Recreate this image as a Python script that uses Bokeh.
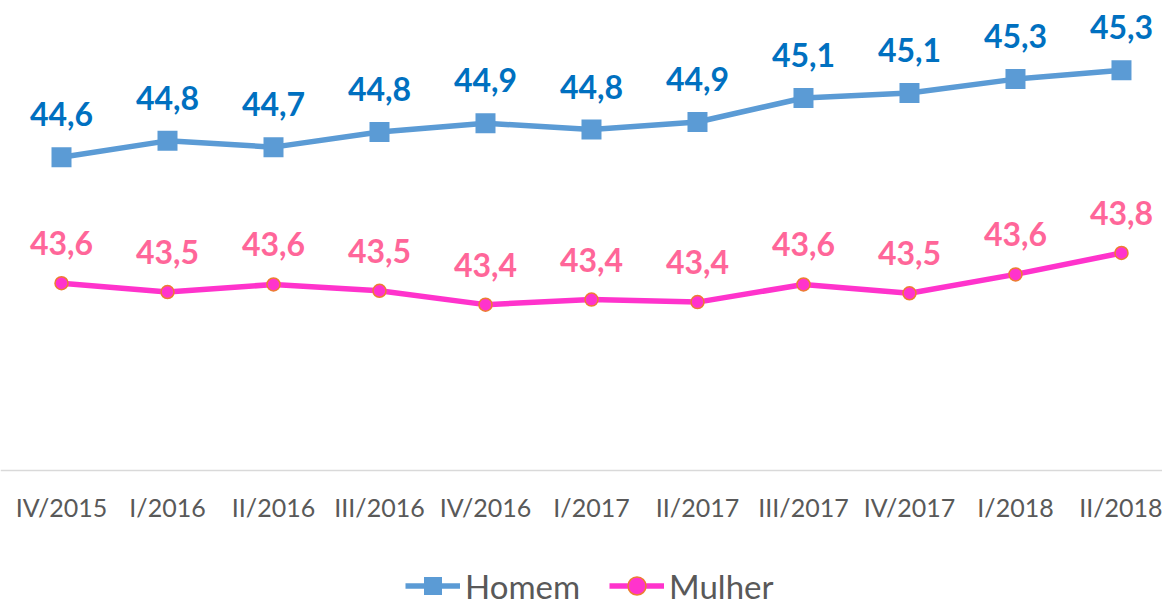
from bokeh.plotting import figure
from bokeh.models import FixedTicker, Legend, LegendItem, Range1d
from bokeh.embed import file_html
from bokeh.resources import INLINE
from bokeh.core.properties import value

quarters = ["IV/2015", "I/2016", "II/2016", "III/2016", "IV/2016", "I/2017",
            "II/2017", "III/2017", "IV/2017", "I/2018", "II/2018"]
homem = [44.61, 44.74, 44.69, 44.81, 44.88, 44.83, 44.89, 45.08, 45.12, 45.23, 45.30]
mulher = [43.61, 43.54, 43.60, 43.55, 43.44, 43.48, 43.46, 43.60, 43.53, 43.68, 43.85]
homem_labels = ["44,6", "44,8", "44,7", "44,8", "44,9", "44,8", "44,9", "45,1", "45,1", "45,3", "45,3"]
mulher_labels = ["43,6", "43,5", "43,6", "43,5", "43,4", "43,4", "43,4", "43,6", "43,5", "43,6", "43,8"]

x = list(range(len(quarters)))

W, H = 1162, 605
p = figure(width=W, height=H, output_backend="svg", toolbar_location=None,
           x_range=Range1d(-0.5755, 10.387), y_range=Range1d(41.052, 45.854),
           y_axis_location=None, x_axis_location="below",
           min_border_left=0, min_border_right=0, min_border_top=0, min_border_bottom=0)
p.outline_line_color = None
p.xgrid.visible = False
p.ygrid.visible = False
p.background_fill_color = "white"
p.border_fill_color = "white"

ax = p.xaxis[0]
ax.fixed_location = 42.124
ax.ticker = FixedTicker(ticks=x)
ax.major_label_overrides = {i: q for i, q in enumerate(quarters)}
ax.axis_line_color = "#d9d9d9"
ax.axis_line_width = 1.5
ax.major_tick_line_color = None
ax.minor_tick_line_color = None
ax.major_label_standoff = 16
ax.major_label_text_font = "Lato"
ax.major_label_text_font_size = "25px"
ax.major_label_text_color = "#595959"

h_line = p.line(x, homem, line_color="#5B9BD5", line_width=5.5)
h_mark = p.scatter(x, homem, marker="square", size=20, fill_color="#5B9BD5",
                   line_color="#5B9BD5", line_width=0)
m_line = p.line(x, mulher, line_color="#FF33CC", line_width=5.5)
m_mark = p.scatter(x, mulher, marker="circle", size=13, fill_color="#FF33CC",
                   line_color="#ED7D31", line_width=1.5)

p.text(x, homem, text=homem_labels, text_align="center", text_baseline="alphabetic",
       y_offset=-43, text_font=value("Lato"), text_font_style="bold",
       text_font_size="32px", text_color="#0070C0")
p.text(x, mulher, text=mulher_labels, text_align="center", text_baseline="alphabetic",
       y_offset=-40, text_font=value("Lato"), text_font_style="bold",
       text_font_size="32px", text_color="#FF6699")

legend = Legend(items=[LegendItem(label="Homem", renderers=[h_line, h_mark]),
                       LegendItem(label="Mulher", renderers=[m_line, m_mark])],
                orientation="horizontal", location=(405, -3),
                label_text_font="Lato", label_text_font_size="33px",
                label_text_color="#595959", glyph_width=55, glyph_height=45,
                label_standoff=5, spacing=29, padding=0, margin=0,
                border_line_alpha=0, background_fill_alpha=0)
p.add_layout(legend, "center")

open("out.html", "w").write(file_html(p, INLINE))
